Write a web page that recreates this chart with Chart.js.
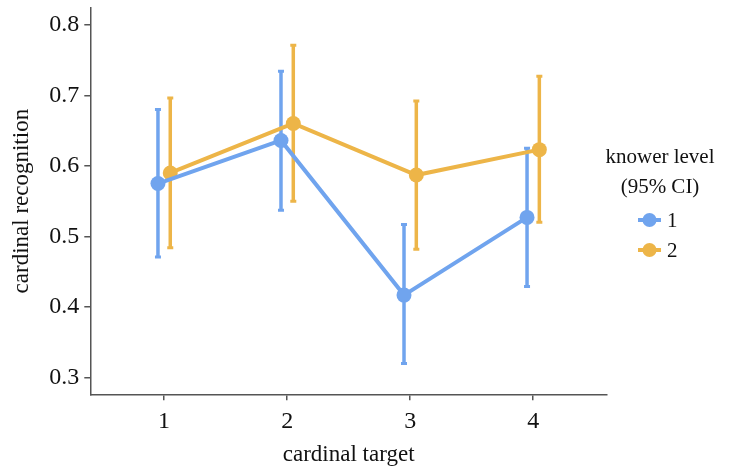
<!DOCTYPE html>
<html>
<head>
<meta charset="utf-8">
<script src="https://cdn.jsdelivr.net/npm/chart.js@4"></script>
<style>
  html, body { margin: 0; padding: 0; background: #fff; }
  #wrap { position: relative; width: 731px; height: 468px; }
</style>
</head>
<body>
<div id="wrap"><canvas id="chart" width="731" height="468"></canvas></div>
<script>
// cardinal target categories
const categories = [1, 2, 3, 4];
const xTicks = [1, 2, 3, 4];
const yTicks = [0.3, 0.4, 0.5, 0.6, 0.7, 0.8];

// knower level 1 (mean and 95% CI)
const level1Mean = [0.575, 0.636, 0.417, 0.527];
const level1Low = [0.471, 0.537, 0.320, 0.429];
const level1High = [0.680, 0.734, 0.517, 0.625];

// knower level 2 (mean and 95% CI)
const level2Mean = [0.590, 0.660, 0.587, 0.623];
const level2Low = [0.484, 0.550, 0.482, 0.520];
const level2High = [0.696, 0.771, 0.692, 0.727];

const seriesNames = ['1', '2'];

const BLUE = '#70a4ee';
const ORANGE = '#edb548';
const AXIS = '#555555';
const FONT = "'Liberation Serif', 'Times New Roman', serif";
const DODGE = 0.05;

function points(means, offset) {
  return categories.map((c, i) => ({ x: c + offset, y: means[i] }));
}

// draws the CI whiskers through the chart's own scales
const errorBars = {
  id: 'errorBars',
  beforeDatasetsDraw(chart) {
    const { ctx, scales: { x, y } } = chart;
    chart.data.datasets.forEach(ds => {
      ctx.save();
      ctx.strokeStyle = ds.borderColor;
      ctx.lineWidth = 3.5;
      ds.data.forEach((p, i) => {
        const px = x.getPixelForValue(p.x);
        const top = y.getPixelForValue(ds.high[i]);
        const bot = y.getPixelForValue(ds.low[i]);
        ctx.beginPath();
        ctx.moveTo(px, top);
        ctx.lineTo(px, bot);
        ctx.stroke();
        ctx.lineWidth = 3;
        ctx.beginPath();
        ctx.moveTo(px - 3, top);
        ctx.lineTo(px + 3, top);
        ctx.moveTo(px - 3, bot);
        ctx.lineTo(px + 3, bot);
        ctx.stroke();
        ctx.lineWidth = 3.5;
      });
      ctx.restore();
    });
  }
};

// legend on the right with a two line title
const sideLegend = {
  id: 'sideLegend',
  afterDraw(chart) {
    const { ctx } = chart;
    ctx.save();
    ctx.fillStyle = '#111';
    ctx.font = '21px ' + FONT;
    ctx.textAlign = 'center';
    ctx.textBaseline = 'middle';
    ctx.fillText('knower level', 660, 157);
    ctx.fillText('(95% CI)', 660, 187);
    chart.data.datasets.forEach((ds, i) => {
      const cy = 220 + i * 30;
      ctx.strokeStyle = ds.borderColor;
      ctx.fillStyle = ds.borderColor;
      ctx.lineWidth = 4;
      ctx.beginPath();
      ctx.moveTo(638, cy);
      ctx.lineTo(661, cy);
      ctx.stroke();
      ctx.beginPath();
      ctx.arc(649.5, cy, 7, 0, Math.PI * 2);
      ctx.fill();
      ctx.fillStyle = '#111';
      ctx.textAlign = 'left';
      ctx.fillText(seriesNames[i], 667, cy + 1);
    });
    ctx.restore();
  }
};

new Chart(document.getElementById('chart'), {
  type: 'line',
  data: {
    datasets: [
      {
        label: seriesNames[0],
        data: points(level1Mean, -DODGE),
        low: level1Low,
        high: level1High,
        borderColor: BLUE,
        backgroundColor: BLUE,
        borderWidth: 4,
        pointRadius: 7.5,
        pointBorderWidth: 0,
        tension: 0
      },
      {
        label: seriesNames[1],
        data: points(level2Mean, DODGE),
        low: level2Low,
        high: level2High,
        borderColor: ORANGE,
        backgroundColor: ORANGE,
        borderWidth: 4,
        pointRadius: 7.5,
        pointBorderWidth: 0,
        tension: 0
      }
    ]
  },
  options: {
    responsive: false,
    animation: false,
    layout: { padding: { top: 0, right: 124, left: 9, bottom: 0 } },
    plugins: { legend: { display: false }, tooltip: { enabled: false } },
    scales: {
      x: {
        type: 'linear',
        min: 0.4,
        max: 4.6,
        afterBuildTicks: axis => { axis.ticks = xTicks.map(v => ({ value: v })); },
        grid: { drawOnChartArea: false, color: AXIS, tickLength: 6, lineWidth: 1.5 },
        border: { color: AXIS, width: 1.5 },
        ticks: { color: '#111', font: { family: FONT, size: 24, lineHeight: 1.1 }, padding: 8 },
        title: { display: true, text: 'cardinal target', color: '#111', font: { family: FONT, size: 23, lineHeight: 1.1 }, padding: { top: 0, bottom: 0 } }
      },
      y: {
        min: 0.2765,
        max: 0.8236,
        afterBuildTicks: axis => { axis.ticks = yTicks.map(v => ({ value: v })); },
        grid: { drawOnChartArea: false, color: AXIS, tickLength: 6, lineWidth: 1.5 },
        border: { color: AXIS, width: 1.5 },
        ticks: { color: '#111', font: { family: FONT, size: 24, lineHeight: 0.25 }, padding: 5, callback: v => v.toFixed(1) },
        title: { display: true, text: 'cardinal recognition', color: '#111', font: { family: FONT, size: 23, lineHeight: 1.1 }, padding: { top: 0, bottom: 10 } }
      }
    }
  },
  plugins: [errorBars, sideLegend]
});
</script>
</body>
</html>
